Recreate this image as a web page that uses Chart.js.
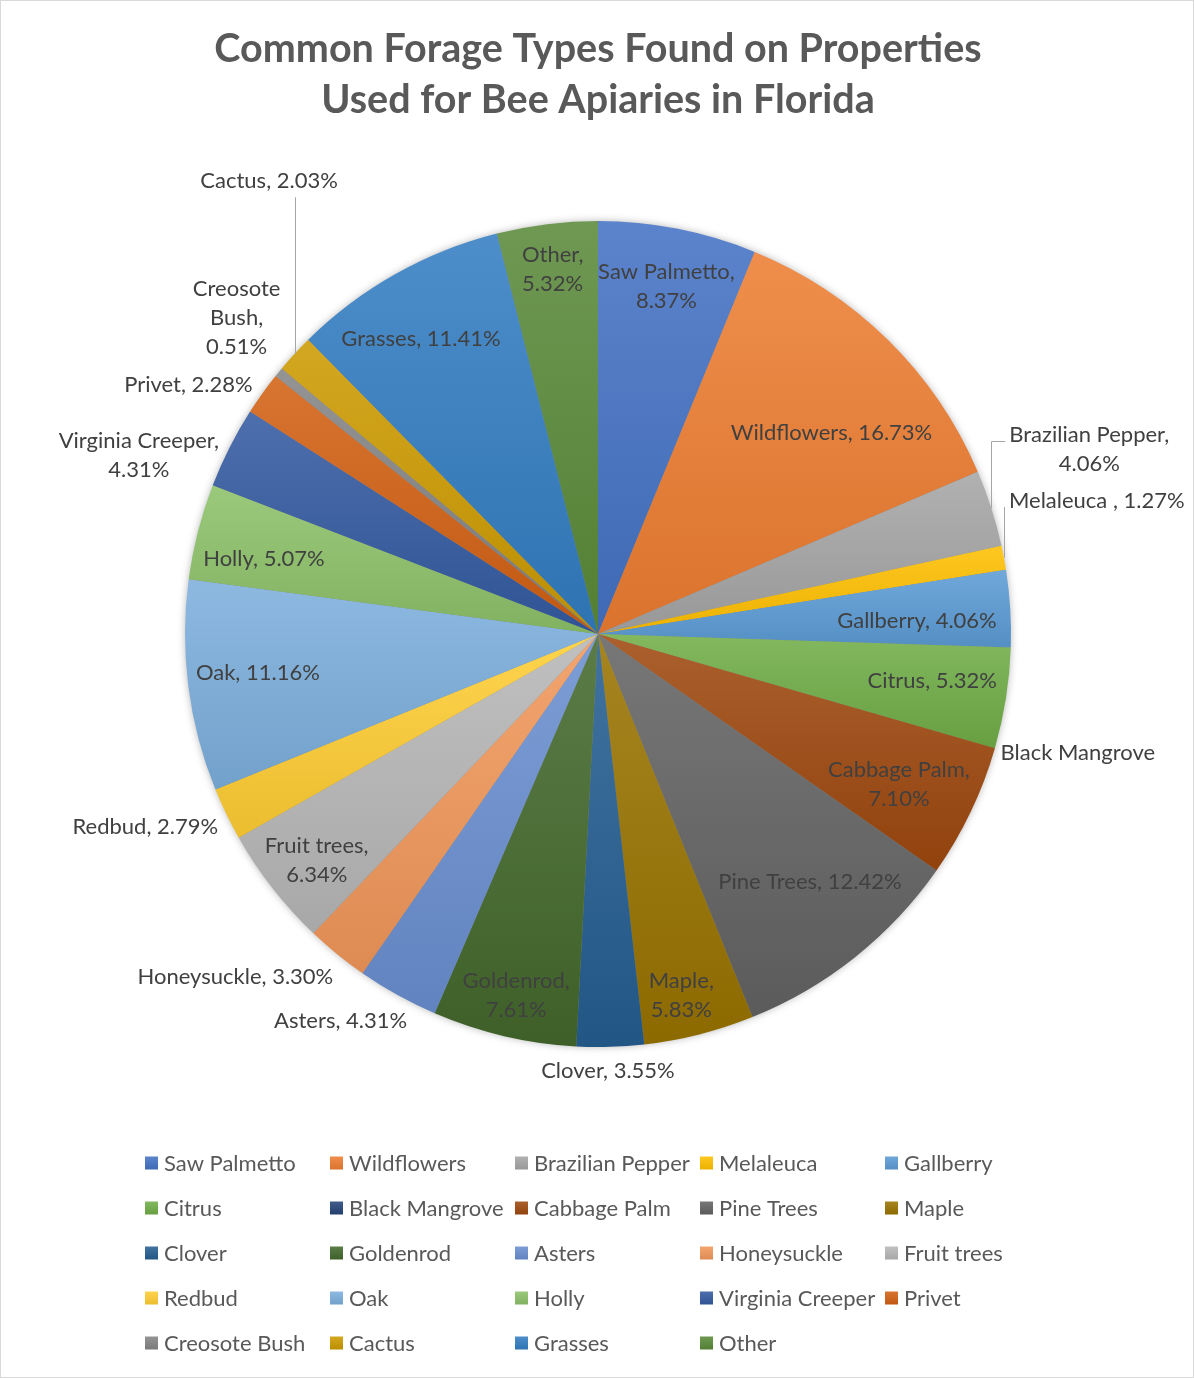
<!DOCTYPE html>
<html><head><meta charset="utf-8">
<script src="https://cdn.jsdelivr.net/npm/chart.js@4.4.1/dist/chart.umd.min.js"></script>
<style>html,body{margin:0;padding:0;background:#fff}canvas{display:block}</style>
</head><body>
<canvas id="c" width="1194" height="1378"></canvas>
<script>
const titleLines = ['Common Forage Types Found on Properties', 'Used for Bee Apiaries in Florida'];
const categories = ['Saw Palmetto','Wildflowers','Brazilian Pepper','Melaleuca ','Gallberry','Citrus','Black Mangrove','Cabbage Palm','Pine Trees','Maple','Clover','Goldenrod','Asters','Honeysuckle','Fruit trees','Redbud','Oak','Holly','Virginia Creeper','Privet','Creosote Bush','Cactus','Grasses','Other'];
const values = [8.37,16.73,4.06,1.27,4.06,5.32,0,7.10,12.42,5.83,3.55,7.61,4.31,3.30,6.34,2.79,11.16,5.07,4.31,2.28,0.51,2.03,11.41,5.32];
const colors = ['#4472C4','#ED7D31','#A5A5A5','#FFC000','#5B9BD5','#70AD47','#264478','#9E480E','#636363','#997300','#255E91','#43682B','#698ED0','#F1975A','#B7B7B7','#FFCD33','#7CAFDD','#8CC168','#335AA1','#D26012','#848484','#CC9A00','#327DC2','#5A8A39'];
// label placement (style): radius factor, angle offset from slice middle (deg), wrap mode, leader type
const labelRadius = [0.857,0.746,1.271,1.25,0.773,0.817,1.197,0.815,0.790,0.897,1.058,0.897,1.125,1.209,0.875,1.192,0.829,0.829,1.193,1.161,1.162,1.356,0.833,0.890];
const labelAngleOffset = [0,4.7,-2.9,-4.3,1.2,-1.0,-2.1,1.1,-2.0,1.2,0.4,-0.4,4.6,7.4,-0.9,2.7,0.7,-1.7,-5.6,-4.3,1.8,11.3,-1.6,0];
const labelWrap = [1,0,1,0,0,0,0,1,0,1,0,1,0,0,1,0,0,0,1,0,2,0,0,1];
const leaderType = [0,0,1,2,0,0,0,0,0,0,0,0,0,0,0,0,0,0,0,0,0,3,0,0];

const FONT = 'Lato, "Open Sans", sans-serif';

function hexRgb(h){const n=parseInt(h.slice(1),16);return [(n>>16)&255,(n>>8)&255,n&255];}
function mix(h,t,f){const c=hexRgb(h);return 'rgb('+c.map((v,i)=>Math.round(v+(t[i]-v)*f)).join(',')+')';}
function tint(h){return mix(h,[255,255,255],0.13);}
function shade(h){return mix(h,[0,0,0],0.08);}

function labelLines(i){
  const name = categories[i], v = values[i];
  if (v === 0) return [name];
  const pct = v.toFixed(2) + '%';
  const mode = labelWrap[i];
  if (mode === 0) return [name + ', ' + pct];
  if (mode === 1) return [name + ',', pct];
  const w = name.split(' ');
  return [...w.slice(0,-1), w[w.length-1] + ',', pct];
}

const gradientPlugin = {
  id: 'sliceGradient',
  beforeDatasetsDraw(chart){
    const ctx = chart.ctx;
    const meta = chart.getDatasetMeta(0);
    const a0 = meta.data[0];
    ctx.save();
    ctx.shadowColor = 'rgba(0,0,0,0.35)';
    ctx.shadowBlur = 9;
    ctx.fillStyle = '#888';
    ctx.beginPath();
    ctx.arc(a0.x, a0.y, a0.outerRadius - 1, 0, Math.PI*2);
    ctx.fill();
    ctx.restore();
    meta.data.forEach((el,i)=>{
      let minY = el.y, maxY = el.y;
      const n = 60;
      for (let k=0;k<=n;k++){
        const a = el.startAngle + (el.endAngle-el.startAngle)*k/n;
        const y = el.y + el.outerRadius*Math.sin(a);
        minY = Math.min(minY,y); maxY = Math.max(maxY,y);
      }
      if (maxY - minY < 1) maxY = minY + 1;
      const g = ctx.createLinearGradient(0,minY,0,maxY);
      g.addColorStop(0, tint(colors[i]));
      g.addColorStop(1, shade(colors[i]));
      el.options.backgroundColor = g;
    });
  }
};

const labelPlugin = {
  id: 'sliceLabels',
  afterDatasetsDraw(chart){
    const ctx = chart.ctx;
    const meta = chart.getDatasetMeta(0);
    const lh = 29;
    ctx.save();
    ctx.font = '22px ' + FONT;
    ctx.textAlign = 'center';
    ctx.textBaseline = 'middle';
    meta.data.forEach((el,i)=>{
      const midRaw = (el.startAngle + el.endAngle)/2;
      const mid = midRaw + labelAngleOffset[i]*Math.PI/180;
      const r = el.outerRadius * labelRadius[i];
      const x = el.x + r*Math.cos(mid);
      const y = el.y + r*Math.sin(mid);
      const lines = labelLines(i);
      const y0 = y - (lines.length-1)*lh/2;
      const maxW = Math.max(...lines.map(l=>ctx.measureText(l).width));
      const lt = leaderType[i];
      if (lt){
        const ex = el.x + el.outerRadius*Math.cos(midRaw);
        const ey = el.y + el.outerRadius*Math.sin(midRaw);
        ctx.save();
        ctx.strokeStyle = '#A6A6A6';
        ctx.lineWidth = 1;
        ctx.beginPath();
        const px = Math.round(ex)+0.5;
        ctx.moveTo(px, ey);
        if (lt === 1){
          const hy = Math.round(y0 + 6)+0.5;
          ctx.lineTo(px, hy);
          ctx.lineTo(x - maxW/2 - 4, hy);
        } else if (lt === 2){
          ctx.lineTo(px, y + 6);
        } else {
          ctx.lineTo(px, y + (lines.length)*lh/2 + 2);
        }
        ctx.stroke();
        ctx.restore();
      }
      ctx.fillStyle = '#404040';
      lines.forEach((l,k)=>ctx.fillText(l, x, y0 + k*lh));
    });
    ctx.restore();
  }
};

const legendPlugin = {
  id: 'gridLegend',
  afterDraw(chart, args, opts){
    const ctx = chart.ctx;
    ctx.save();
    ctx.font = '22px ' + FONT;
    ctx.textBaseline = 'middle';
    ctx.textAlign = 'left';
    categories.forEach((name,i)=>{
      const col = i % opts.columns, row = Math.floor(i / opts.columns);
      const x = opts.left + col*opts.colWidth;
      const y = opts.top + row*opts.rowHeight;
      const b = opts.box;
      const g = ctx.createLinearGradient(0, y-b/2, 0, y+b/2);
      g.addColorStop(0, tint(colors[i]));
      g.addColorStop(1, shade(colors[i]));
      ctx.fillStyle = g;
      ctx.fillRect(x, y - b/2, b, b);
      ctx.fillStyle = '#595959';
      ctx.fillText(name.trim(), x + b + 6, y + 1);
    });
    ctx.strokeStyle = '#D9D9D9';
    ctx.lineWidth = 1;
    ctx.strokeRect(0.5, 0.5, chart.width-1, chart.height-1);
    ctx.restore();
  }
};

new Chart(document.getElementById('c'), {
  type: 'pie',
  data: {
    labels: categories,
    datasets: [{
      data: values,
      backgroundColor: colors.slice(),
      borderWidth: 0,
      hoverOffset: 0
    }]
  },
  options: {
    responsive: false,
    animation: false,
    events: [],
    layout: { padding: { top: 0, left: 185, right: 183, bottom: 331 } },
    plugins: {
      legend: { display: false },
      tooltip: { enabled: false },
      title: {
        display: true,
        text: titleLines,
        color: '#595959',
        font: { family: FONT, size: 39.5, weight: 'bold', lineHeight: 1.29 },
        padding: { top: 24, bottom: 95.1 }
      },
      gridLegend: { columns: 5, left: 145, colWidth: 185, top: 1163, rowHeight: 45, box: 13 }
    }
  },
  plugins: [gradientPlugin, labelPlugin, legendPlugin]
});
</script>
</body></html>
